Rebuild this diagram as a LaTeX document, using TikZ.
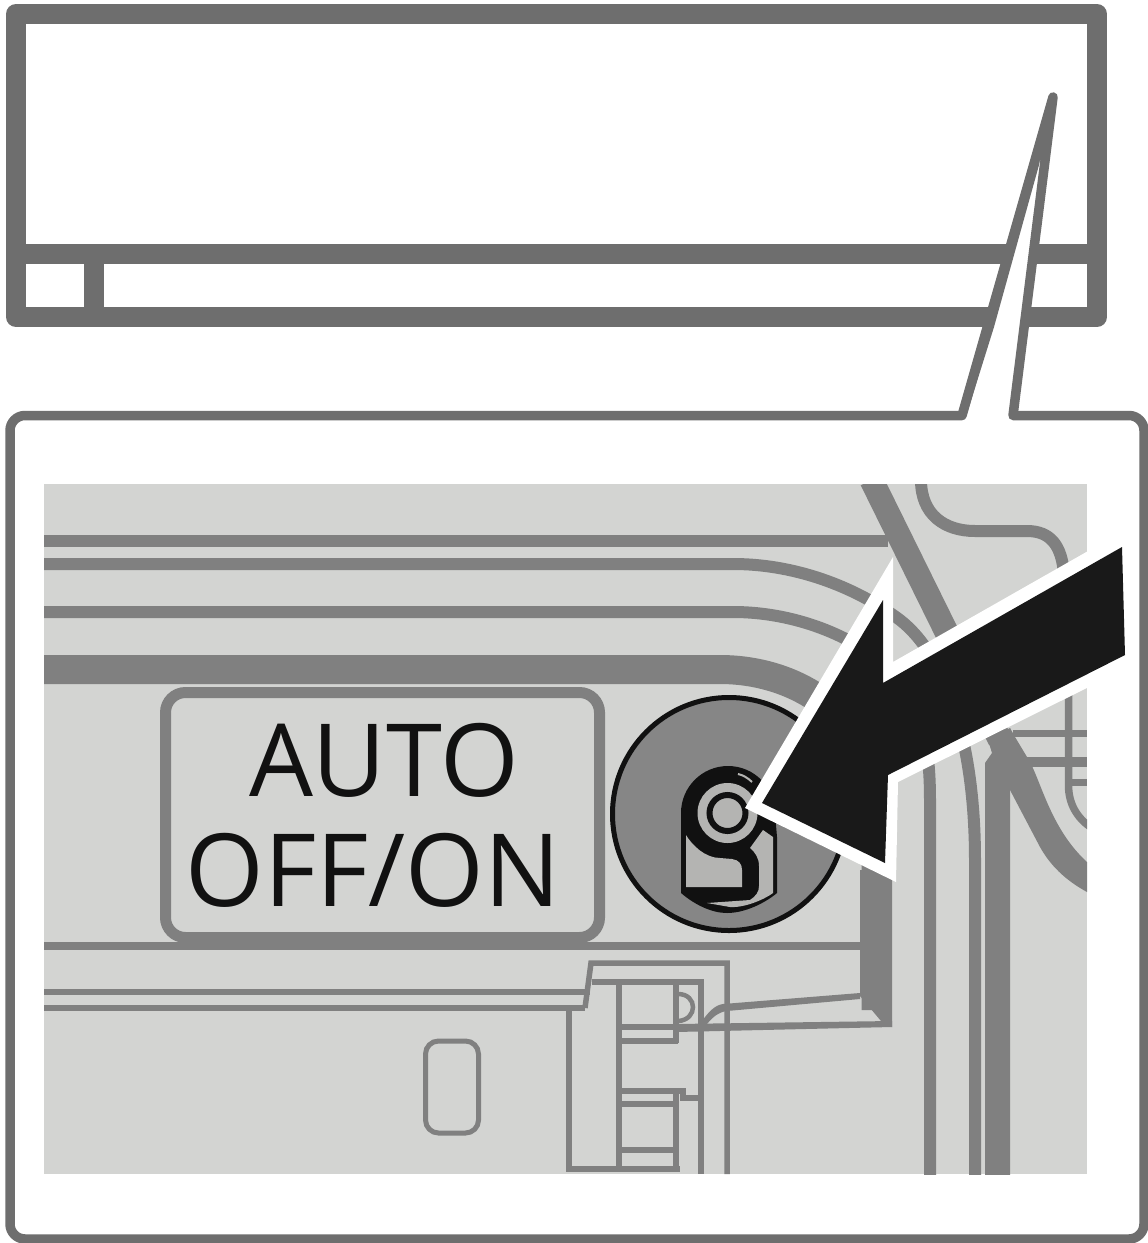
\documentclass[tikz,border=0pt]{standalone}
\usepackage{fontspec}
\setmainfont{Open Sans}
\definecolor{frame}{HTML}{6E6E6E}
\definecolor{panelbg}{HTML}{D3D4D2}
\definecolor{ink}{HTML}{808080}
\definecolor{dark}{HTML}{111111}
\definecolor{disc}{HTML}{868686}
\definecolor{lite}{HTML}{B4B4B2}
\tikzset{
 unitframe/.style={draw=frame,line width=20pt,line join=round},
 callout/.style={draw=frame,fill=white,line width=9.5pt,line join=round},
 pipe/.style={draw=ink,line cap=butt,line join=round},
 part/.style={draw=ink,line width=5.5pt,line join=miter,line cap=butt},
 label/.style={font=\fontsize{101}{101}\selectfont,text=dark,inner sep=0pt,anchor=center},
}
\begin{document}
\begin{tikzpicture}[x=1pt,y=-1pt]
\useasboundingbox (0,0) rectangle (1148,1243);
\fill[white] (0,0) rectangle (1148,1243);
% indoor unit
\draw[unitframe] (16,14) rectangle (1097,317);
\draw[unitframe] (16,254) -- (1097,254);
\draw[unitframe] (94,254) -- (94,317);
% callout
\draw[callout] (962,415.5) -- (1053,97) -- (1013,415.5) -- (1129,415.5)
  arc[start angle=-90,end angle=0,radius=15] -- (1144,1224)
  arc[start angle=0,end angle=90,radius=15] -- (25,1239)
  arc[start angle=90,end angle=180,radius=15] -- (10,430.5)
  arc[start angle=180,end angle=270,radius=15] -- cycle;
\fill[frame] (962,415) -- (966.5,415) -- (994,327) -- (1039,165) -- (1044,130) -- (990,320) -- cycle;
% panel
\fill[panelbg] (44,484) rectangle (1087,1174);
\begin{scope}
\clip (44,484) rectangle (1087,1174);
\draw[pipe,line width=12pt] (44,541) -- (888,541);
\draw[pipe,line width=12pt] (44,564) -- (733,564) .. controls (800,564) and (860,590) .. (900,620) .. controls (945,655) and (975,740) .. (975,860) -- (975,1180);
\draw[pipe,line width=12pt] (44,612) -- (733,612) .. controls (800,612) and (860,640) .. (890,670) .. controls (920,700) and (930,740) .. (930,800) -- (930,1180);
\draw[pipe,line width=29pt] (44,669.5) -- (720,669.5) .. controls (800,669.5) and (876,720) .. (876,810) -- (876,1010);
\draw[pipe,line width=24pt] (871.5,480) -- (945.5,630) -- (1000,740);
\fill[ink] (1010,728) -- (1015,737) -- (1030,762) .. controls (1042,785) and (1052,830) .. (1087,862)
  -- (1087,892) .. controls (1065,880) and (1050,865) .. (1040,847) -- (1010,790) -- cycle;
\draw[pipe,line width=12pt] (921,480) .. controls (921,515) and (945,531) .. (975,531) -- (1027,531) .. controls (1050,531) and (1062,545) .. (1064,575);
\draw[pipe,line width=7.5pt] (1068.5,690) -- (1068.5,785) .. controls (1068.5,805) and (1078,820) .. (1095,830);
\draw[pipe,line width=7pt] (1013,733.5) -- (1087,733.5);
\draw[pipe,line width=10pt] (1025,762) -- (1087,762);
\draw[pipe,line width=7pt] (1065,782.5) -- (1087,782.5);
\fill[ink] (985,1180) -- (985,763) -- (992,753) -- (988,740) -- (1010,728) -- (1010,1180) -- cycle;
% lower ledge
\draw[pipe,line width=8pt] (44,946) -- (862,946);
\fill[ink] (860,870) -- (892,870) -- (892,1027) -- (881,1021) -- (860,996) -- cycle;
\fill[ink] (723,1004) -- (860,993) -- (860,999) -- (727,1011) .. controls (718,1012) and (712,1018) .. (707,1024) -- (700,1024) .. controls (708,1012) and (715,1005) .. (723,1004) -- cycle;
\fill[ink] (676,1024) -- (892,1021) -- (892,1027) -- (676,1032) -- cycle;
% latch parts
\draw[part] (44,992) -- (590,992);
\draw[part] (44,1008) -- (585,1008);
\draw[part] (585,1008) -- (591,963) -- (727,963) -- (727,1174);
\draw[part] (569,1008) -- (569,1169) -- (680,1169);
\draw[part] (592,982) -- (701,982) -- (701,1174);
\draw[part] (619,982) -- (619,1169);
\draw[part] (676,982) -- (676,1043);
\draw[part] (676,1091) -- (676,1169);
\draw[part] (619,1027) -- (703,1027);
\draw[part] (619,1041) -- (678,1041);
\draw[part] (619,1091) -- (683,1091) -- (683,1098) -- (701,1098);
\draw[part] (619,1104) -- (676,1104);
\draw[part] (619,1150) -- (676,1150);
\draw[part,line width=4.5pt] (678,994) .. controls (698,994) and (698,1020) .. (678,1021);
\draw[part,line width=5pt,rounded corners=13pt] (425.5,1041) rectangle (478.5,1133);
\end{scope}
% label plate
\draw[draw=ink,fill=panelbg,line width=11pt,rounded corners=20pt] (165.5,692.5) rectangle (599.5,937.5);
\node[label] (auto) at (384,760) {AUTO};
\node[label] (offon) at (373,870) {OFF/ON};
% knob
\draw[draw=dark,fill=disc,line width=5pt] (729,814) circle[radius=116.5];
\fill[dark] (681,813) arc[start angle=180,end angle=360,radius=47]
  -- (775,813) -- (777,837) -- (777,893) .. controls (765,903) and (745,913) .. (727,913) .. controls (712,913) and (695,905) .. (681,893) -- cycle;
\fill[lite] (686,835) .. controls (692,845) and (705,858) .. (720,858) -- (732,859)
  .. controls (739,860) and (742,864) .. (742,870) -- (742,887) -- (686,887) -- cycle;
\fill[lite] (763,830) -- (773,837) -- (773,893) .. controls (765,899) and (745,908) .. (730,907)
  -- (707,903) -- (750,900) .. controls (756,896) and (759,892) .. (759,886) -- (759,866)
  .. controls (759,858) and (755,852) .. (750,848) -- cycle;
\fill[lite] (727.5,813) circle[radius=30];
\draw[dark,line width=6pt] (727.5,813) circle[radius=18];
\draw[lite,line width=2pt] (738,774) .. controls (743,775) and (748,778) .. (752,782);
% arrow
\coordinate (tipW) at (745,808);
\coordinate (tipB) at (762,803);
\fill[white] (tipW) -- (893,557) -- (893,662) -- (1125,530) -- (1125,669) -- (898,782) -- (896,882) -- cycle;
\fill[black!90] (tipB) -- (883,600) -- (883,683) -- (1122,547) -- (1125,655) -- (888,775) -- (885,863) -- cycle;
\end{tikzpicture}
\end{document}
